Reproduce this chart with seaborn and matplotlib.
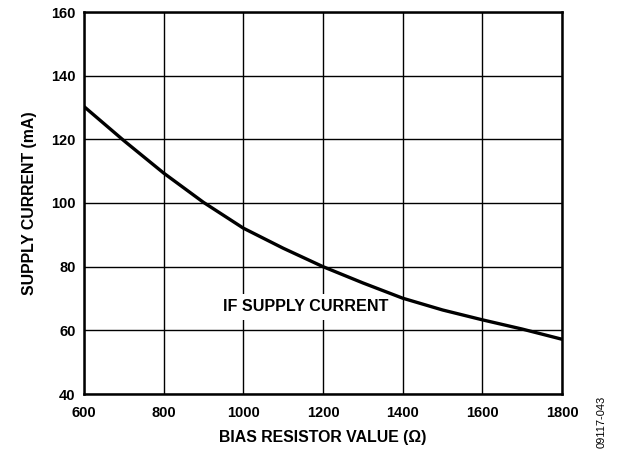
import numpy as np
import pandas as pd
import matplotlib
matplotlib.use("Agg")
import matplotlib.pyplot as plt
import seaborn as sns

# bias resistor (ohm) vs IF supply current (mA)
resistor = [600, 700, 800, 900, 1000, 1100, 1200, 1300, 1400, 1500, 1600, 1700, 1800]
current = [130.3, 119.6, 109.4, 100.2, 92.1, 85.8, 80.0, 74.9, 70.1, 66.4, 63.3, 60.4, 57.2]

x_ticks = [600, 800, 1000, 1200, 1400, 1600, 1800]
y_ticks = [40, 60, 80, 100, 120, 140, 160]

sns.set_theme(style="white")
plt.rcParams['font.family'] = ['Liberation Sans', 'DejaVu Sans']

df = pd.DataFrame({"resistor": resistor, "current": current})

fig = plt.figure(figsize=(6.18, 4.49), dpi=100)
ax = fig.add_axes([84 / 618, 1 - 394 / 449, 478 / 618, 382 / 449])

ax.set_xlim(600, 1800)
ax.set_ylim(40, 160)
ax.set_xticks(x_ticks)
ax.set_yticks(y_ticks)
ax.grid(True, color='black', linewidth=1.0, zorder=0)
ax.set_axisbelow(True)

sns.lineplot(data=df, x="resistor", y="current", color='black', linewidth=2.4, ax=ax, zorder=3)

for s in ax.spines.values():
    s.set_color('black')
    s.set_linewidth(1.8)

ax.tick_params(axis='y', length=0, labelsize=10.5, pad=6, colors='black')
ax.tick_params(axis='x', length=0, labelsize=10.5, pad=8.5, colors='black')
for lbl in ax.get_xticklabels() + ax.get_yticklabels():
    lbl.set_fontweight('bold')

ax.set_xlabel("BIAS RESISTOR VALUE (Ω)", fontsize=11.4, fontweight='bold', labelpad=7, color='black')
ax.set_ylabel("SUPPLY CURRENT (mA)", fontsize=11.4, fontweight='bold', labelpad=10, color='black')

# label sits on a white patch that cuts the grid but not the curve
ax.text(1157, 67.4, "IF SUPPLY CURRENT", fontsize=11.6, fontweight='bold', ha='center', va='center',
        color='black', zorder=2,
        bbox=dict(facecolor='white', edgecolor='none', pad=4))

fig.text(602 / 618, 1 - 422 / 449, "09117-043", rotation=90, fontsize=8, ha='center', va='center', color='black')

fig.savefig("out.png", dpi=100)
